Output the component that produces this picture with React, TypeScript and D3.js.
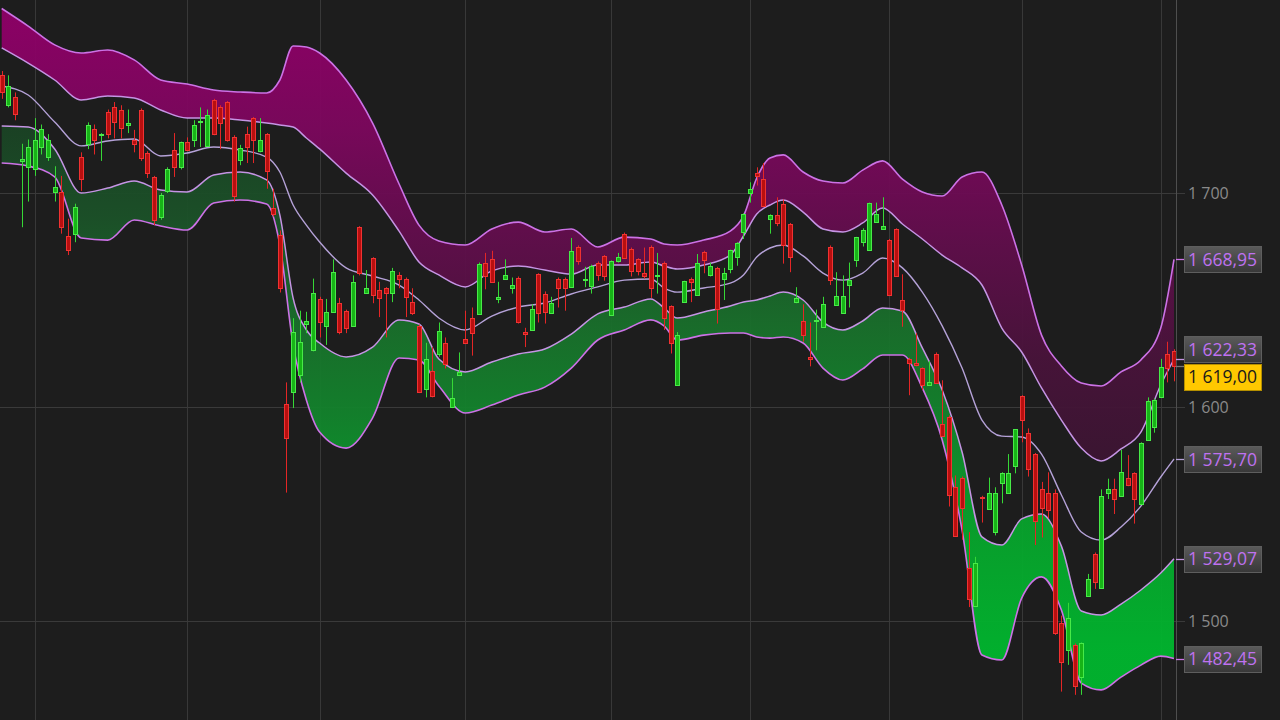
import React, { useEffect, useRef } from 'react';
import * as d3 from 'd3';

// ---------- Candles (one per trading day) ----------
const candleOpen = [
  1755, 1741, 1745, 1715, 1712, 1711, 1721.5, 1717, 1700.5, 1700.5,
  1680, 1681, 1717, 1723, 1730, 1727, 1738, 1740, 1739, 1732,
  1725, 1739, 1718.5, 1707.5, 1689, 1701, 1720, 1712, 1724, 1725,
  1733, 1722, 1743.5, 1740, 1742.5, 1726, 1715.5, 1727.5, 1735, 1719.5,
  1727.5, 1693, 1680.5, 1601.5, 1607, 1615, 1639, 1626.5, 1650.5, 1638,
  1644.5, 1648.5, 1645, 1638, 1684, 1653.5, 1669.5, 1654.5, 1655.5, 1653.5,
  1661.5, 1660, 1649, 1638, 1608.5, 1617, 1625, 1630, 1600, 1615,
  1632, 1641.5, 1643.5, 1667.5, 1669, 1650.5, 1660, 1655.5, 1660.5, 1635,
  1636, 1662, 1653, 1644, 1660, 1660, 1656, 1675, 1659.5, 1656.5,
  1667.5, 1670.5, 1643, 1668, 1681, 1674, 1669, 1662.5, 1675, 1661,
  1667.5, 1647, 1610.5, 1649, 1660, 1652.5, 1672.5, 1661.5, 1665, 1660,
  1664.5, 1670, 1682, 1700, 1709.5, 1706.5, 1688, 1689.5, 1695, 1685.5,
  1649, 1640, 1623.5, 1640, 1637.5, 1675, 1647.5, 1644, 1657, 1668.5,
  1677, 1673.5, 1686.5, 1683, 1678, 1683, 1650, 1622.5, 1620.5, 1618,
  1610.5, 1625, 1592, 1595.5, 1562.5, 1567, 1525, 1507, 1558, 1552.5,
  1541.5, 1564.5, 1560, 1572.5, 1605, 1588, 1578, 1561.5, 1560, 1560,
  1499, 1486.5, 1489, 1474, 1511.5, 1531.5, 1515.5, 1560, 1561.5, 1558.5,
  1567, 1569, 1554.5, 1584.5, 1590.5, 1604.5, 1625, 1626,
];
const candleHigh = [
  1757, 1755, 1747, 1723, 1725, 1735, 1732, 1727.5, 1712.5, 1708,
  1688, 1695, 1719, 1733, 1732, 1728, 1739, 1742.5, 1741, 1739,
  1729.5, 1739.5, 1719.5, 1708, 1700, 1712, 1728, 1724, 1726, 1734,
  1740, 1739, 1744, 1741, 1743, 1727, 1722.5, 1731, 1735.5, 1735,
  1728, 1702, 1682.5, 1611.5, 1641.5, 1645, 1644.5, 1660, 1651.5, 1650.5,
  1669, 1651, 1645.5, 1661.5, 1684.5, 1664, 1670, 1658.5, 1656, 1665,
  1663, 1660.5, 1655.5, 1638.5, 1630, 1628, 1639.5, 1632.5, 1613.5, 1625.5,
  1645, 1646.5, 1667.5, 1672, 1673, 1658.5, 1669, 1660.5, 1661, 1637,
  1648, 1662.5, 1654, 1651.5, 1660.5, 1660.5, 1679, 1675.5, 1665.5, 1666.5,
  1668, 1671, 1668.5, 1672, 1681.5, 1674.5, 1669.5, 1674.5, 1675.5, 1672,
  1668, 1647.5, 1635, 1659, 1660.5, 1671.5, 1673, 1667.5, 1665.5, 1665,
  1673.5, 1677, 1690.5, 1705, 1712, 1714, 1690, 1698, 1697, 1686,
  1656, 1648, 1639.5, 1645.5, 1651.5, 1675.5, 1663, 1661.5, 1667.5, 1679.5,
  1683.5, 1695.5, 1695.5, 1698, 1678.5, 1683.5, 1662, 1623, 1634.5, 1618.5,
  1621.5, 1625.5, 1612.5, 1596, 1568, 1567.5, 1541.5, 1530, 1558.5, 1567,
  1562.5, 1569.5, 1578, 1589.5, 1605.5, 1590, 1578.5, 1565, 1569.5, 1561.5,
  1502.5, 1508.5, 1489.5, 1490, 1522, 1532, 1561.5, 1566.5, 1566.5, 1580,
  1577.5, 1569.5, 1583.5, 1604.5, 1604, 1622.5, 1630.5, 1627,
];
const candleLow = [
  1744, 1740, 1734, 1684, 1696, 1708, 1718, 1715, 1696, 1681,
  1671, 1677, 1701, 1720.5, 1718, 1715, 1725.5, 1725.5, 1725.5, 1728,
  1719, 1715, 1707, 1685, 1687.5, 1700, 1707.5, 1711, 1719.5, 1721.5,
  1721.5, 1721.5, 1727, 1720.5, 1724, 1696, 1713, 1714, 1714, 1719,
  1702, 1689, 1653.5, 1560, 1599.5, 1611.5, 1634.5, 1626, 1632.5, 1629,
  1644, 1634, 1634.5, 1637.5, 1661.5, 1653.5, 1648.5, 1642, 1632.5, 1649,
  1655.5, 1642, 1643, 1606.5, 1604.5, 1604.5, 1623.5, 1618, 1599.5, 1614.5,
  1629.5, 1624, 1643, 1655, 1658, 1648.5, 1659.5, 1653, 1639, 1628,
  1635.5, 1639.5, 1639, 1643.5, 1646.5, 1645, 1656, 1666.5, 1656, 1653,
  1659, 1659, 1642.5, 1667.5, 1669.5, 1661, 1661.5, 1660, 1651, 1653,
  1636, 1625, 1610, 1649, 1649, 1652, 1662.5, 1661, 1639, 1650,
  1662.5, 1666, 1678.5, 1695.5, 1703.5, 1693.5, 1681, 1684.5, 1667, 1663,
  1648.5, 1630.5, 1619, 1626.5, 1637, 1657, 1647.5, 1643.5, 1646.5, 1665.5,
  1675, 1673, 1686, 1683, 1652, 1661, 1637.5, 1605.5, 1619, 1608,
  1610.5, 1611, 1586, 1553.5, 1539.5, 1538, 1506.5, 1506.5, 1546, 1552,
  1540, 1555, 1559.5, 1569, 1583.5, 1567.5, 1535.5, 1539, 1548, 1493.5,
  1467, 1479.5, 1465.5, 1465.5, 1511.5, 1515, 1515, 1557, 1550, 1558,
  1563, 1545.5, 1554.5, 1584.5, 1588, 1604.5, 1611.5, 1612,
];
const candleClose = [
  1747, 1750, 1737, 1716, 1721.5, 1725, 1730, 1725, 1703, 1684,
  1673.5, 1693.5, 1706.5, 1732, 1725, 1727.5, 1727.5, 1733, 1730.5, 1732.5,
  1723, 1716.5, 1709.5, 1687.5, 1699, 1711, 1712, 1724, 1720, 1732,
  1733.5, 1736.5, 1727.5, 1732.5, 1725, 1698.5, 1721, 1721.5, 1725, 1725,
  1710.5, 1690, 1655.5, 1585.5, 1635, 1630.5, 1640, 1653.5, 1639.5, 1644.5,
  1663, 1635, 1637, 1658.5, 1662.5, 1655.5, 1652.5, 1651, 1653.5, 1663.5,
  1660, 1651.5, 1644, 1607, 1622.5, 1605, 1635.5, 1620, 1604, 1616.5,
  1630, 1634.5, 1667, 1661, 1658.5, 1651.5, 1661.5, 1657, 1639.5, 1634,
  1646, 1644, 1644.5, 1648.5, 1655.5, 1655.5, 1673, 1668, 1660, 1666,
  1661.5, 1661, 1668, 1670, 1669.5, 1663.5, 1663.5, 1661, 1655.5, 1661.5,
  1641.5, 1630, 1633.5, 1659, 1658.5, 1667.5, 1668.5, 1666, 1646, 1662.5,
  1673.5, 1676.5, 1690, 1702, 1708, 1694, 1689.5, 1686, 1675.5, 1670,
  1651, 1633.5, 1622.5, 1640.5, 1648, 1659.5, 1652, 1652, 1659.5, 1679.5,
  1682.5, 1695.5, 1690, 1684.5, 1652.5, 1661, 1645.5, 1620.5, 1619.5, 1610.5,
  1611.5, 1611, 1586.5, 1559, 1539.5, 1553, 1510.5, 1527, 1557.5, 1560,
  1560, 1569, 1569, 1589.5, 1594, 1571, 1546.5, 1553, 1552, 1494.5,
  1481, 1501.5, 1469.5, 1489.5, 1519.5, 1518, 1558.5, 1561.5, 1557, 1569.5,
  1563.5, 1557, 1583, 1603, 1603.5, 1618.5, 1618, 1619,
];

// ---------- Envelope bands (sampled at these candle indices) ----------
const bandIdx = [
  0, 4, 8, 12, 16, 20, 24, 28, 32, 36,
  40, 42, 44, 46, 48, 52, 56, 60, 63, 66,
  70, 74, 78, 82, 86, 90, 94, 98, 100, 102,
  106, 110, 112, 114, 116, 118, 121, 124, 127, 130,
  133, 136, 139, 142, 145, 148, 151, 154, 157, 160,
  163, 166, 169, 172, 175, 177,
];
const bandUpper2 = [
  1786.2, 1778.0, 1769.2, 1765.4, 1766.8, 1762.2, 1752.8, 1750.9, 1748.1, 1747.2,
  1746.7, 1752.8, 1768.7, 1768.2, 1765.4, 1752.8, 1732.7, 1704.2, 1685.0, 1677.6,
  1675.7, 1683.2, 1686.4, 1681.8, 1683.2, 1674.8, 1679.4, 1678.5, 1676.2, 1675.7,
  1678.0, 1682.2, 1689.3, 1707.0, 1716.4, 1717.8, 1709.8, 1705.6, 1704.7, 1710.7,
  1715.0, 1706.5, 1700.5, 1698.6, 1707.5, 1709.8, 1694.4, 1666.4, 1633.6, 1619.2,
  1611.2, 1609.8, 1616.4, 1622.0, 1636.9, 1668.95,
];
const bandUpper1 = [
  1767.8, 1760.7, 1752.8, 1743.5, 1745.3, 1744.4, 1738.8, 1735.0, 1735.0, 1734.1,
  1732.7, 1731.8, 1730.8, 1725.7, 1720.6, 1709.3, 1699.1, 1682.2, 1667.8, 1661.7,
  1656.1, 1663.6, 1665.9, 1664.0, 1662.1, 1666.4, 1666.4, 1667.8, 1665.9, 1664.5,
  1666.4, 1671.0, 1679.9, 1690.2, 1694.4, 1696.7, 1691.1, 1683.2, 1681.8, 1686.0,
  1693.0, 1685.5, 1678.5, 1671.0, 1665.0, 1657.0, 1636.9, 1625.7, 1608.9, 1593.9,
  1580.8, 1574.8, 1580.4, 1588.3, 1610.3, 1622.33,
];
const bandMiddle = [
  1750.0, 1745.8, 1733.2, 1722.0, 1724.3, 1725.2, 1717.3, 1718.7, 1721.5, 1720.1,
  1716.8, 1709.8, 1694.4, 1685.0, 1677.1, 1665.0, 1661.2, 1657.0, 1650.0, 1641.6,
  1636.0, 1642.5, 1646.7, 1648.6, 1652.8, 1656.1, 1659.3, 1659.8, 1655.6, 1653.7,
  1655.6, 1657.9, 1661.7, 1670.1, 1674.3, 1675.7, 1670.6, 1662.6, 1659.3, 1662.6,
  1669.6, 1665.0, 1653.7, 1637.9, 1618.2, 1593.9, 1586.4, 1586.0, 1578.0, 1558.9,
  1541.6, 1537.8, 1543.9, 1553.7, 1567.3, 1575.70,
];
const bandLower1 = [
  1731.3, 1730.8, 1720.6, 1700.0, 1702.3, 1705.6, 1701.4, 1700.5, 1708.4, 1709.8,
  1706.1, 1689.7, 1650.9, 1636.0, 1629.9, 1623.4, 1628.0, 1640.7, 1638.8, 1622.4,
  1616.4, 1621.0, 1624.8, 1627.1, 1634.1, 1643.5, 1646.7, 1650.5, 1646.3, 1641.6,
  1644.4, 1647.2, 1649.1, 1650.0, 1651.9, 1653.7, 1650.0, 1639.7, 1636.0, 1640.2,
  1646.3, 1644.9, 1627.6, 1607.9, 1579.0, 1539.3, 1535.5, 1547.7, 1550.0, 1535.0,
  1504.7, 1502.8, 1507.9, 1514.5, 1522.4, 1529.07,
];
const bandLower2 = [
  1714.0, 1712.6, 1707.5, 1679.0, 1678.0, 1687.4, 1684.6, 1682.7, 1695.3, 1696.7,
  1694.9, 1675.7, 1629.0, 1603.3, 1588.3, 1580.8, 1594.9, 1622.9, 1622.0, 1609.8,
  1597.2, 1600.9, 1605.6, 1609.3, 1618.2, 1631.3, 1636.0, 1640.7, 1637.9, 1631.3,
  1633.6, 1634.6, 1634.6, 1632.7, 1632.2, 1632.7, 1629.9, 1618.2, 1612.6, 1617.8,
  1624.3, 1624.3, 1608.9, 1584.6, 1542.5, 1484.1, 1481.8, 1510.7, 1520.6, 1505.1,
  1471.0, 1467.8, 1473.8, 1479.4, 1483.6, 1482.45,
];

// ---------- Axis ----------
const priceTicks = [1500, 1600, 1700];
const periodGridIdx = [5, 28, 48, 70, 92, 113, 134, 154, 175];

const COL_U2 = '#cc72e6';
const COL_U1 = '#c594e4';
const COL_MID = '#b5a2d8';
const COL_L1 = '#c594e4';
const COL_L2 = '#cc72e6';

export default function App() {
  const ref = useRef<SVGSVGElement>(null);

  useEffect(() => {
    document.body.style.margin = '0';
    document.body.style.background = '#1d1d1d';
    const svg = d3.select(ref.current);
    svg.selectAll('*').remove();

    const W = 1280;
    const H = 720;
    const plotRight = 1176;
    const n = candleClose.length;

    const x = d3.scaleLinear().domain([0, n - 1]).range([1.7, 1174]);
    const y = d3.scaleLinear().domain([1500, 1700]).range([621, 193]);

    const loc = d3.formatLocale({ decimal: ',', thousands: ' ', grouping: [3], currency: ['', ''] });
    const fmt2 = loc.format(',.2f');
    const fmt0 = loc.format(',.0f');

    svg.append('rect').attr('width', W).attr('height', H).attr('fill', '#1d1d1d');

    const defs = svg.append('defs');
    const mg = defs.append('linearGradient').attr('id', 'magGrad')
      .attr('gradientUnits', 'userSpaceOnUse').attr('x1', 0).attr('y1', 0).attr('x2', 0).attr('y2', H);
    [[0.04, '#8e0067'], [0.18, '#7c075d'], [0.34, '#600e4b'], [0.5, '#48133a'], [0.66, '#3a1531']].forEach(([o, c]) =>
      mg.append('stop').attr('offset', o as number).attr('stop-color', c as string));
    const gg = defs.append('linearGradient').attr('id', 'grnGrad')
      .attr('gradientUnits', 'userSpaceOnUse').attr('x1', 0).attr('y1', 0).attr('x2', 0).attr('y2', H);
    [[0.17, '#1a4224'], [0.3, '#1b5128'], [0.45, '#196f2b'], [0.58, '#12842c'], [0.72, '#08a22c'], [0.9, '#00b62e']].forEach(([o, c]) =>
      gg.append('stop').attr('offset', o as number).attr('stop-color', c as string));
    defs.append('clipPath').attr('id', 'plotClip')
      .append('rect').attr('x', 0).attr('y', 0).attr('width', plotRight).attr('height', H);

    // grid
    const grid = svg.append('g');
    periodGridIdx.forEach((gi) => {
      const gx = Math.round(x(gi)) + 0.5;
      grid.append('line').attr('x1', gx).attr('x2', gx).attr('y1', 0).attr('y2', H)
        .attr('stroke', '#383838').attr('stroke-width', 1);
    });
    priceTicks.forEach((t) => {
      const gy = Math.round(y(t)) + 0.5;
      grid.append('line').attr('x1', 0).attr('x2', 1185).attr('y1', gy).attr('y2', gy)
        .attr('stroke', '#3a3a3a').attr('stroke-width', 1);
    });

    const plot = svg.append('g').attr('clip-path', 'url(#plotClip)');
    const pts = bandIdx.map((b, k) => k);
    const bx = (k: number) => x(bandIdx[k]);

    const areaBetween = (a: number[], b: number[]) =>
      d3.area<number>().x(bx).y0((k) => y(a[k])).y1((k) => y(b[k])).curve(d3.curveMonotoneX);
    const lineOf = (a: number[]) => d3.line<number>().x(bx).y((k) => y(a[k])).curve(d3.curveMonotoneX);

    plot.append('path').attr('d', areaBetween(bandUpper1, bandUpper2)(pts) as string)
      .attr('fill', 'url(#magGrad)').attr('opacity', 0.95);
    plot.append('path').attr('d', areaBetween(bandLower2, bandLower1)(pts) as string)
      .attr('fill', 'url(#grnGrad)').attr('opacity', 0.95);

    const bandLines: [number[], string, number][] = [
      [bandUpper2, COL_U2, 1.6],
      [bandUpper1, COL_U1, 1.5],
      [bandMiddle, COL_MID, 1.4],
      [bandLower1, COL_L1, 1.5],
      [bandLower2, COL_L2, 1.6],
    ];
    bandLines.forEach(([arr, col, w]) => {
      plot.append('path').attr('d', lineOf(arr)(pts) as string)
        .attr('fill', 'none').attr('stroke', col).attr('stroke-width', w);
    });

    // candles
    const cg = plot.append('g');
    for (let i = 0; i < n; i++) {
      const o = candleOpen[i], h = candleHigh[i], l = candleLow[i], c = candleClose[i];
      const up = c >= o;
      const cx = Math.round(x(i)) + 0.5;
      const wick = up ? '#36d836' : '#e42626';
      const fill = up ? '#17b417' : '#b80f0f';
      const stroke = up ? '#48ea48' : '#f03232';
      cg.append('line').attr('x1', cx).attr('x2', cx)
        .attr('y1', y(h)).attr('y2', y(l)).attr('stroke', wick).attr('stroke-width', 1);
      const top = Math.round(y(Math.max(o, c))) + 0.5;
      const bot = Math.round(y(Math.min(o, c))) + 0.5;
      const bh = Math.max(1, bot - top);
      cg.append('rect').attr('x', cx - 2).attr('y', top).attr('width', 4).attr('height', bh)
        .attr('fill', fill).attr('stroke', stroke).attr('stroke-width', 1);
    }

    // axis line
    svg.append('line').attr('x1', plotRight + 0.5).attr('x2', plotRight + 0.5).attr('y1', 0).attr('y2', H)
      .attr('stroke', '#4e4e4e').attr('stroke-width', 1);

    const font = '"Open Sans", "Noto Sans", sans-serif';
    priceTicks.forEach((t) => {
      svg.append('text').attr('x', 1188).attr('y', y(t) + 6)
        .attr('fill', '#8a8a8a').attr('font-family', font).attr('font-size', 16)
        .text(fmt0(t));
    });

    // value labels
    type Lab = { v: number; vy: number; cy: number; kind: 'band' | 'last'; col: string };
    const last = bandIdx.length - 1;
    const labs: Lab[] = [
      { v: bandUpper2[last], col: COL_U2 },
      { v: bandUpper1[last], col: COL_U1 },
      { v: bandMiddle[last], col: COL_MID },
      { v: bandLower1[last], col: COL_L1 },
      { v: bandLower2[last], col: COL_L2 },
    ].map((d) => ({ v: d.v, vy: y(d.v), cy: y(d.v), kind: 'band' as const, col: d.col }));
    labs.push({ v: candleClose[n - 1], vy: y(candleClose[n - 1]), cy: y(candleClose[n - 1]), kind: 'last', col: '#777' });
    labs.sort((a, b) => a.vy - b.vy);
    const bh = 26;
    const sep = 27.5;
    for (let it = 0; it < 30; it++) {
      for (let j = 1; j < labs.length; j++) {
        const a = labs[j - 1], b = labs[j];
        const ov = a.cy + sep - b.cy;
        if (ov > 0) { a.cy -= ov / 2; b.cy += ov / 2; }
      }
    }

    const bg = defs.append('linearGradient').attr('id', 'boxGrad').attr('x1', 0).attr('y1', 0).attr('x2', 0).attr('y2', 1);
    bg.append('stop').attr('offset', 0).attr('stop-color', '#5a5a5a');
    bg.append('stop').attr('offset', 1).attr('stop-color', '#383838');

    labs.forEach((lb) => {
      const vy = Math.round(lb.vy) + 0.5;
      svg.append('line').attr('x1', plotRight).attr('x2', 1185).attr('y1', vy).attr('y2', vy)
        .attr('stroke', lb.col).attr('stroke-width', 1.3);
      const top = Math.round(lb.cy - bh / 2) + 0.5;
      if (lb.kind === 'band') {
        svg.append('rect').attr('x', 1184.5).attr('y', top).attr('width', 77).attr('height', bh)
          .attr('fill', 'url(#boxGrad)').attr('stroke', '#5e5e5e').attr('stroke-width', 1);
        svg.append('text').attr('x', 1188).attr('y', lb.cy + 6.5)
          .attr('fill', '#bf72f0').attr('font-family', font).attr('font-size', 17.5)
          .text(fmt2(lb.v));
      } else {
        svg.append('rect').attr('x', 1184.5).attr('y', top).attr('width', 77).attr('height', bh)
          .attr('fill', '#ffc800').attr('stroke', '#b58f00').attr('stroke-width', 1);
        svg.append('text').attr('x', 1188).attr('y', lb.cy + 6.5)
          .attr('fill', '#1a1a1a').attr('font-family', font).attr('font-size', 17.5)
          .text(fmt2(lb.v));
      }
    });
  }, []);

  return <svg ref={ref} width={1280} height={720} style={{ display: 'block' }} />;
}
